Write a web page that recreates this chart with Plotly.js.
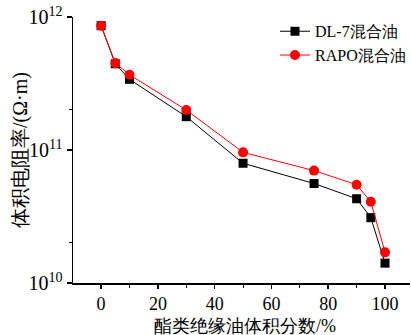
<!DOCTYPE html>
<html><head><meta charset="utf-8">
<script src="https://cdn.plot.ly/plotly-3.0.1.min.js"></script>
<style>html,body{margin:0;padding:0;background:#fff;}#c{width:411px;height:335px;}</style>
</head><body><div id="c"></div>
<script>
const xFrac = [0, 5, 10, 30, 50, 75, 90, 95, 100];
const dl7 = [8.6e11, 4.45e11, 3.4e11, 1.78e11, 7.95e10, 5.6e10, 4.3e10, 3.1e10, 1.41e10];
const rapo = [8.6e11, 4.5e11, 3.68e11, 2.0e11, 9.6e10, 7.0e10, 5.48e10, 4.08e10, 1.70e10];
const names = ['DL-7混合油', 'RAPO混合油'];
const yTickVals = [1e10, 1e11, 1e12];
const yTickText = ['10<sup>10</sup>', '10<sup>11</sup>', '10<sup>12</sup>'];
const xTitle = '酯类绝缘油体积分数/%';
const yTitle = '体积电阻率/(Ω·m)';

const serif = 'Liberation Serif, Times New Roman, serif';
const traces = [
  {x: xFrac, y: dl7, name: names[0], mode: 'lines+markers', type: 'scatter',
   line: {color: '#000', width: 1}, marker: {symbol: 'square', size: 9, color: '#000'}},
  {x: xFrac, y: rapo, name: names[1], mode: 'lines+markers', type: 'scatter',
   line: {color: '#ff0000', width: 1}, marker: {symbol: 'circle', size: 10, color: '#ff0000'}}
];
const layout = {
  width: 411, height: 335,
  margin: {l: 73, r: 0, t: 17, b: 52},
  paper_bgcolor: '#fff', plot_bgcolor: '#fff',
  font: {family: serif, color: '#000', size: 18},
  showlegend: true,
  legend: {x: 0.6, y: 1.01, xanchor: 'left', yanchor: 'top', bgcolor: 'rgba(0,0,0,0)',
           font: {family: serif, size: 16, color: '#000'}, tracegroupgap: 0, itemwidth: 30},
  xaxis: {range: [-9.9, 108.8], showgrid: false, zeroline: false, showline: true,
          linecolor: '#000', linewidth: 1.5, ticks: 'outside', ticklen: 4, tickwidth: 1.5,
          tickcolor: '#000', tickmode: 'linear', tick0: 0, dtick: 20,
          tickfont: {family: serif, size: 18, color: '#000'},
          minor: {tickmode: 'linear', tick0: 0, dtick: 10, ticks: 'outside', ticklen: 3, tickcolor: '#000', tickwidth: 1}},
  yaxis: {type: 'log', range: [10, 12], showgrid: false, zeroline: false, showline: true,
          linecolor: '#000', linewidth: 1.5, ticks: 'outside', ticklen: 5, tickwidth: 1.5,
          tickcolor: '#000', tickmode: 'array', tickvals: yTickVals, ticktext: yTickText,
          tickfont: {family: serif, size: 20, color: '#000'},
          minor: {tickmode: 'array', tickvals: [2e10, 2e11], ticks: 'outside', ticklen: 3, tickcolor: '#000', tickwidth: 1}},
  annotations: [
    {text: xTitle, xref: 'paper', yref: 'paper', x: 0.51, y: 0, yanchor: 'bottom', yshift: -55,
     showarrow: false, font: {family: serif, size: 18, color: '#000'}},
    {text: yTitle, xref: 'paper', yref: 'paper', x: 0, y: 0.5, xanchor: 'center', xshift: -53,
     textangle: -90, showarrow: false, font: {family: serif, size: 20, color: '#000'}}
  ]
};
Plotly.newPlot('c', traces, layout, {displayModeBar: false, staticPlot: true});
</script></body></html>
